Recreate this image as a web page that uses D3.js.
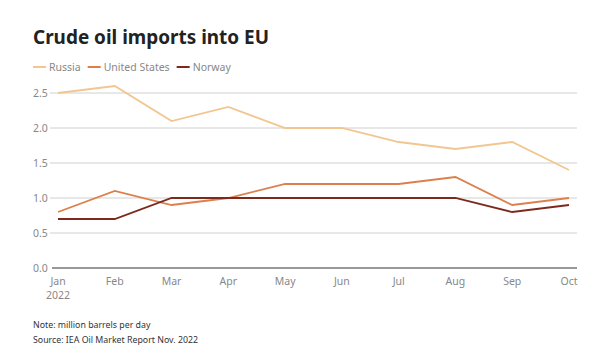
<!DOCTYPE html>
<html><head><meta charset="utf-8">
<script src="https://cdn.jsdelivr.net/npm/d3@7"></script>
<style>body{margin:0;background:#fff;} svg{display:block;font-family:"Source Sans Pro","Noto Sans",sans-serif;}</style>
</head><body><svg id="c" width="600" height="356"></svg>
<script>
const months = ["Jan","Feb","Mar","Apr","May","Jun","Jul","Aug","Sep","Oct"];
const russia = [2.5,2.6,2.1,2.3,2.0,2.0,1.8,1.7,1.8,1.4];
const unitedStates = [0.8,1.1,0.9,1.0,1.2,1.2,1.2,1.3,0.9,1.0];
const norway = [0.7,0.7,1.0,1.0,1.0,1.0,1.0,1.0,0.8,0.9];
const yTicks = [0,0.5,1.0,1.5,2.0,2.5];
const seriesNames = ["Russia","United States","Norway"];
const colors = ["#f2c690","#dc7f4b","#7d2a1c"];

const svg = d3.select("#c");
const x = d3.scalePoint().domain(months).range([58,569]);
const y = d3.scaleLinear().domain([0,2.5]).range([268,93]);

svg.append("text").attr("x",33).attr("y",44).attr("font-size",20).attr("font-weight",700).attr("fill","#222")
  .attr("textLength",236).attr("lengthAdjust","spacingAndGlyphs").text("Crude oil imports into EU");

// legend
let lx = 33;
seriesNames.forEach((n,i)=>{
  svg.append("line").attr("x1",lx).attr("x2",lx+13).attr("y1",67).attr("y2",67).attr("stroke",colors[i]).attr("stroke-width",2);
  const t = svg.append("text").attr("x",lx+16).attr("y",71).attr("font-size",10.5).attr("fill","#888").text(n);
  lx += 16 + t.node().getComputedTextLength() + 7;
});

// grid
svg.append("g").selectAll("line").data(yTicks.filter(d=>d>0)).join("line")
  .attr("x1",50).attr("x2",577).attr("y1",d=>y(d)).attr("y2",d=>y(d)).attr("stroke","#d0d0d0").attr("stroke-width",1);
svg.append("line").attr("x1",52).attr("x2",577).attr("y1",y(0)).attr("y2",y(0)).attr("stroke","#333").attr("stroke-width",1.2);
svg.append("g").selectAll("text").data(yTicks).join("text")
  .attr("x",33).attr("y",d=>y(d)+4).attr("font-size",10.5).attr("fill","#888").text(d=>d.toFixed(1));

// x labels
svg.append("g").selectAll("text").data(months).join("text")
  .attr("x",d=>x(d)).attr("y",285).attr("text-anchor","middle").attr("font-size",10.5).attr("fill","#888").text(d=>d);
svg.append("text").attr("x",x("Jan")).attr("y",299).attr("text-anchor","middle").attr("font-size",10.5).attr("fill","#888").text("2022");

const line = d3.line().x((d,i)=>x(months[i])).y(d=>y(d));
[russia,unitedStates,norway].forEach((s,i)=>{
  svg.append("path").datum(s).attr("d",line).attr("fill","none").attr("stroke",colors[i]).attr("stroke-width",1.8);
});

svg.append("text").attr("x",33).attr("y",328).attr("font-size",8.8).attr("fill","#333").text("Note: million barrels per day");
svg.append("text").attr("x",33).attr("y",343).attr("font-size",8.8).attr("fill","#333").text("Source: IEA Oil Market Report Nov. 2022");
</script></body></html>
